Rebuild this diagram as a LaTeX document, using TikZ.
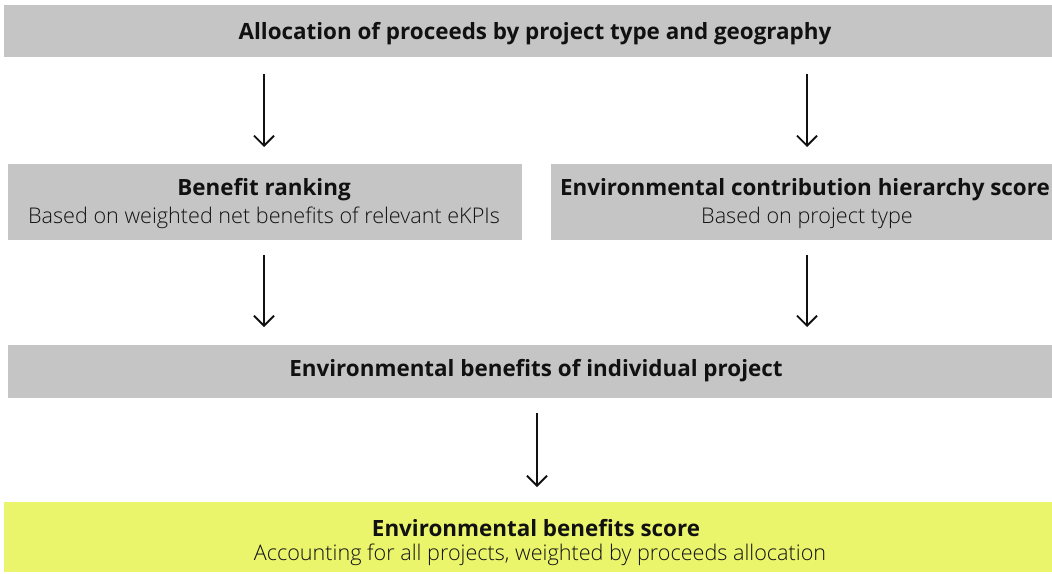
\documentclass[tikz,border=0pt]{standalone}
\usepackage{fontspec}
\setmainfont{Open Sans}
\newfontfamily\lightfont{Open Sans Light}
\usetikzlibrary{arrows.meta,calc}
\definecolor{boxgray}{HTML}{C4C5C4}
\definecolor{scoreyellow}{HTML}{EBF56C}
\definecolor{ink}{HTML}{111111}
\tikzset{
  panel/.style={fill=boxgray, draw=none, inner sep=0pt, anchor=north west},
  heading/.style={font=\fontsize{22.4}{26}\selectfont\bfseries, text=ink, inner sep=0pt},
  subline/.style={font=\lightfont\fontsize{21.6}{26}\selectfont, text=ink, inner sep=0pt},
  flow/.style={draw=ink, line width=1.8pt, -{Straight Barb[length=10pt,width=20pt,line width=1.8pt]}}
}
\begin{document}
\begin{tikzpicture}[x=1pt,y=-1pt]
\useasboundingbox (0,0) rectangle (1052,573);
% panels
\node[panel, minimum width=1048pt, minimum height=52pt] (top) at (4,5) {};
\node[panel, minimum width=514pt, minimum height=76pt] (rank) at (8,164) {};
\node[panel, minimum width=501pt, minimum height=76pt] (hier) at (551,164) {};
\node[panel, minimum width=1044pt, minimum height=53pt] (mid) at (8,345) {};
\node[panel, fill=scoreyellow, minimum width=1048pt, minimum height=70pt] (score) at (4,502) {};
% texts
\node[heading] (toptxt) at (535,34) {Allocation of proceeds by project type and geography};
\node[heading] (ranktxt) at (264,190) {Benefit ranking};
\node[subline] (ranksub) at (264,218) {Based on weighted net benefits of relevant eKPIs};
\node[heading] (hiertxt) at (805,190) {Environmental contribution hierarchy score};
\node[subline] (hiersub) at (807,218) {Based on project type};
\node[heading] (midtxt) at (536,371) {Environmental benefits of individual project};
\node[heading] (scoretxt) at (536,528) {Environmental benefits score};
\node[subline] (scoresub) at (540,555) {Accounting for all projects, weighted by proceeds allocation};
% connectors
\coordinate (c1) at (264,0);
\coordinate (c2) at (807,0);
\coordinate (c3) at (537,0);
\draw[flow] (top.south -| c1) ++(0,17) -- ($(rank.north -| c1)+(0,-17)$);
\draw[flow] (top.south -| c2) ++(0,17) -- ($(hier.north -| c2)+(0,-17)$);
\draw[flow] (rank.south -| c1) ++(0,15) -- ($(mid.north -| c1)+(0,-18)$);
\draw[flow] (hier.south -| c2) ++(0,15) -- ($(mid.north -| c2)+(0,-18)$);
\draw[flow] (mid.south -| c3) ++(0,15) -- ($(score.north -| c3)+(0,-15)$);
\end{tikzpicture}
\end{document}
